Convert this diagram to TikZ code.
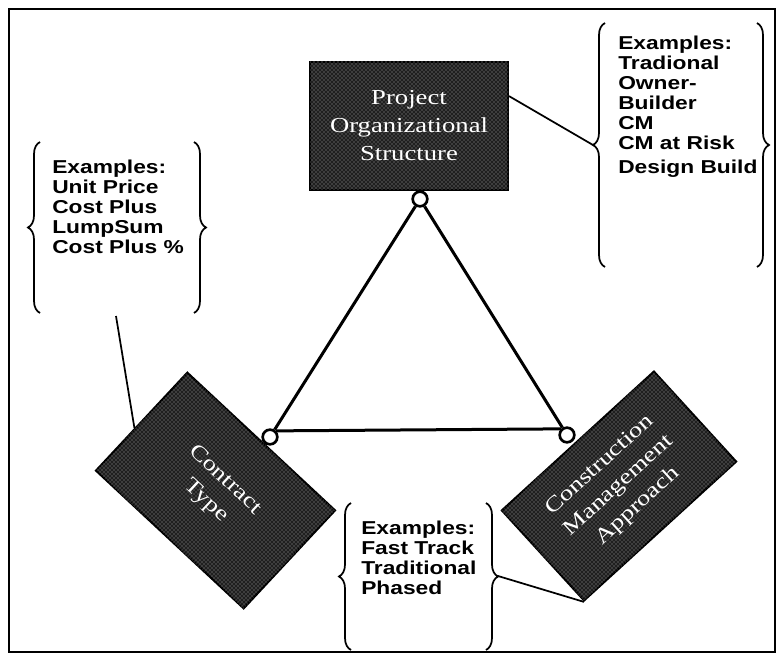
\documentclass[tikz,border=0pt]{standalone}
\usepackage{fontspec}
\setmainfont{Liberation Sans}
\newfontfamily\exfont[FakeStretch=1.22]{Liberation Sans}
\newfontfamily\boxfont[FakeStretch=1.25]{Liberation Serif}
\usetikzlibrary{calc,patterns,decorations.pathreplacing}

\tikzset{
  darkbox/.style={draw=black, line width=1.5pt, fill=black!88,
    postaction={pattern=crosshatch dots, pattern color=white!65!black},
    text=white, align=center, inner sep=0pt,
    font=\boxfont\fontsize{16}{21}\selectfont},
  joint/.style={circle, draw=black, line width=2pt, fill=white,
    minimum size=11pt, inner sep=0pt},
  side/.style={line width=2.25pt},
  curly/.style={decorate, decoration={brace, amplitude=9pt}, line width=1.3pt},
  extext/.style={anchor=north west, inner sep=0pt, align=left,
    font=\exfont\bfseries\fontsize{14}{15}\selectfont},
  callout/.style={line width=1.3pt}
}

\begin{document}
\begin{tikzpicture}[x=0.75pt,y=0.75pt,yscale=-1,xscale=1]
\useasboundingbox (0,0) rectangle (783,660);

%Shape: Frame
\draw [line width=1.5pt] (9,9) rectangle (775,652);

%Shape: Boxes
\node [darkbox, minimum width=148.5pt, minimum height=96pt] (topbox) at (409,126) {Project\\Organizational\\Structure};
\node [darkbox, minimum width=151.5pt, minimum height=100.5pt, rotate=-43] (leftbox) at (215.5,490.5) {Contract\\Type};
\node [darkbox, minimum width=154.5pt, minimum height=91.5pt, rotate=42.4] (rightbox) at (619,486) {Construction\\Management\\Approach};

%Shape: Joints
\node [joint] (cT) at (420,199) {};
\node [joint] (cL) at (270,437) {};
\node [joint] (cR) at (567,435) {};

%Straight Lines: triangle
\draw [side] (cT) -- (cL);
\draw [side] (cT) -- (cR);
\draw [side] (cL.north east) -- (cR.north west);

%Braces: structure examples
\draw [curly] (605,267) -- (605,23);
\draw [curly] (757,23) -- (757,267);
\coordinate (strTip) at (593,145);
% Text Node
\node [extext] (strEx) at (618,36) {Examples:\\Tradional\\Owner-\\Builder\\CM\\CM at Risk\\[3pt]Design Build};

%Braces: contract examples
\draw [curly] (40,313) -- (40,142);
\draw [curly] (194,142) -- (194,313);
\coordinate (conBot) at (116,316);
% Text Node
\node [extext] (conEx) at (52,160) {Examples:\\Unit Price\\Cost Plus\\LumpSum\\Cost Plus \%};

%Braces: approach examples
\draw [curly] (351,650) -- (351,503);
\draw [curly] (486,503) -- (486,650);
\coordinate (appTip) at (498,576);
% Text Node
\node [extext] (appEx) at (361,521) {Examples:\\Fast Track\\Traditional\\Phased};

%Straight Lines: callouts
\draw [callout] ($(topbox.north east)!0.27!(topbox.south east)$) -- (strTip);
\draw [callout] (conBot) -- ($(leftbox.north west)!0.57!(leftbox.south west)$);
\draw [callout] (appTip) -- (rightbox.south west);

\end{tikzpicture}
\end{document}
